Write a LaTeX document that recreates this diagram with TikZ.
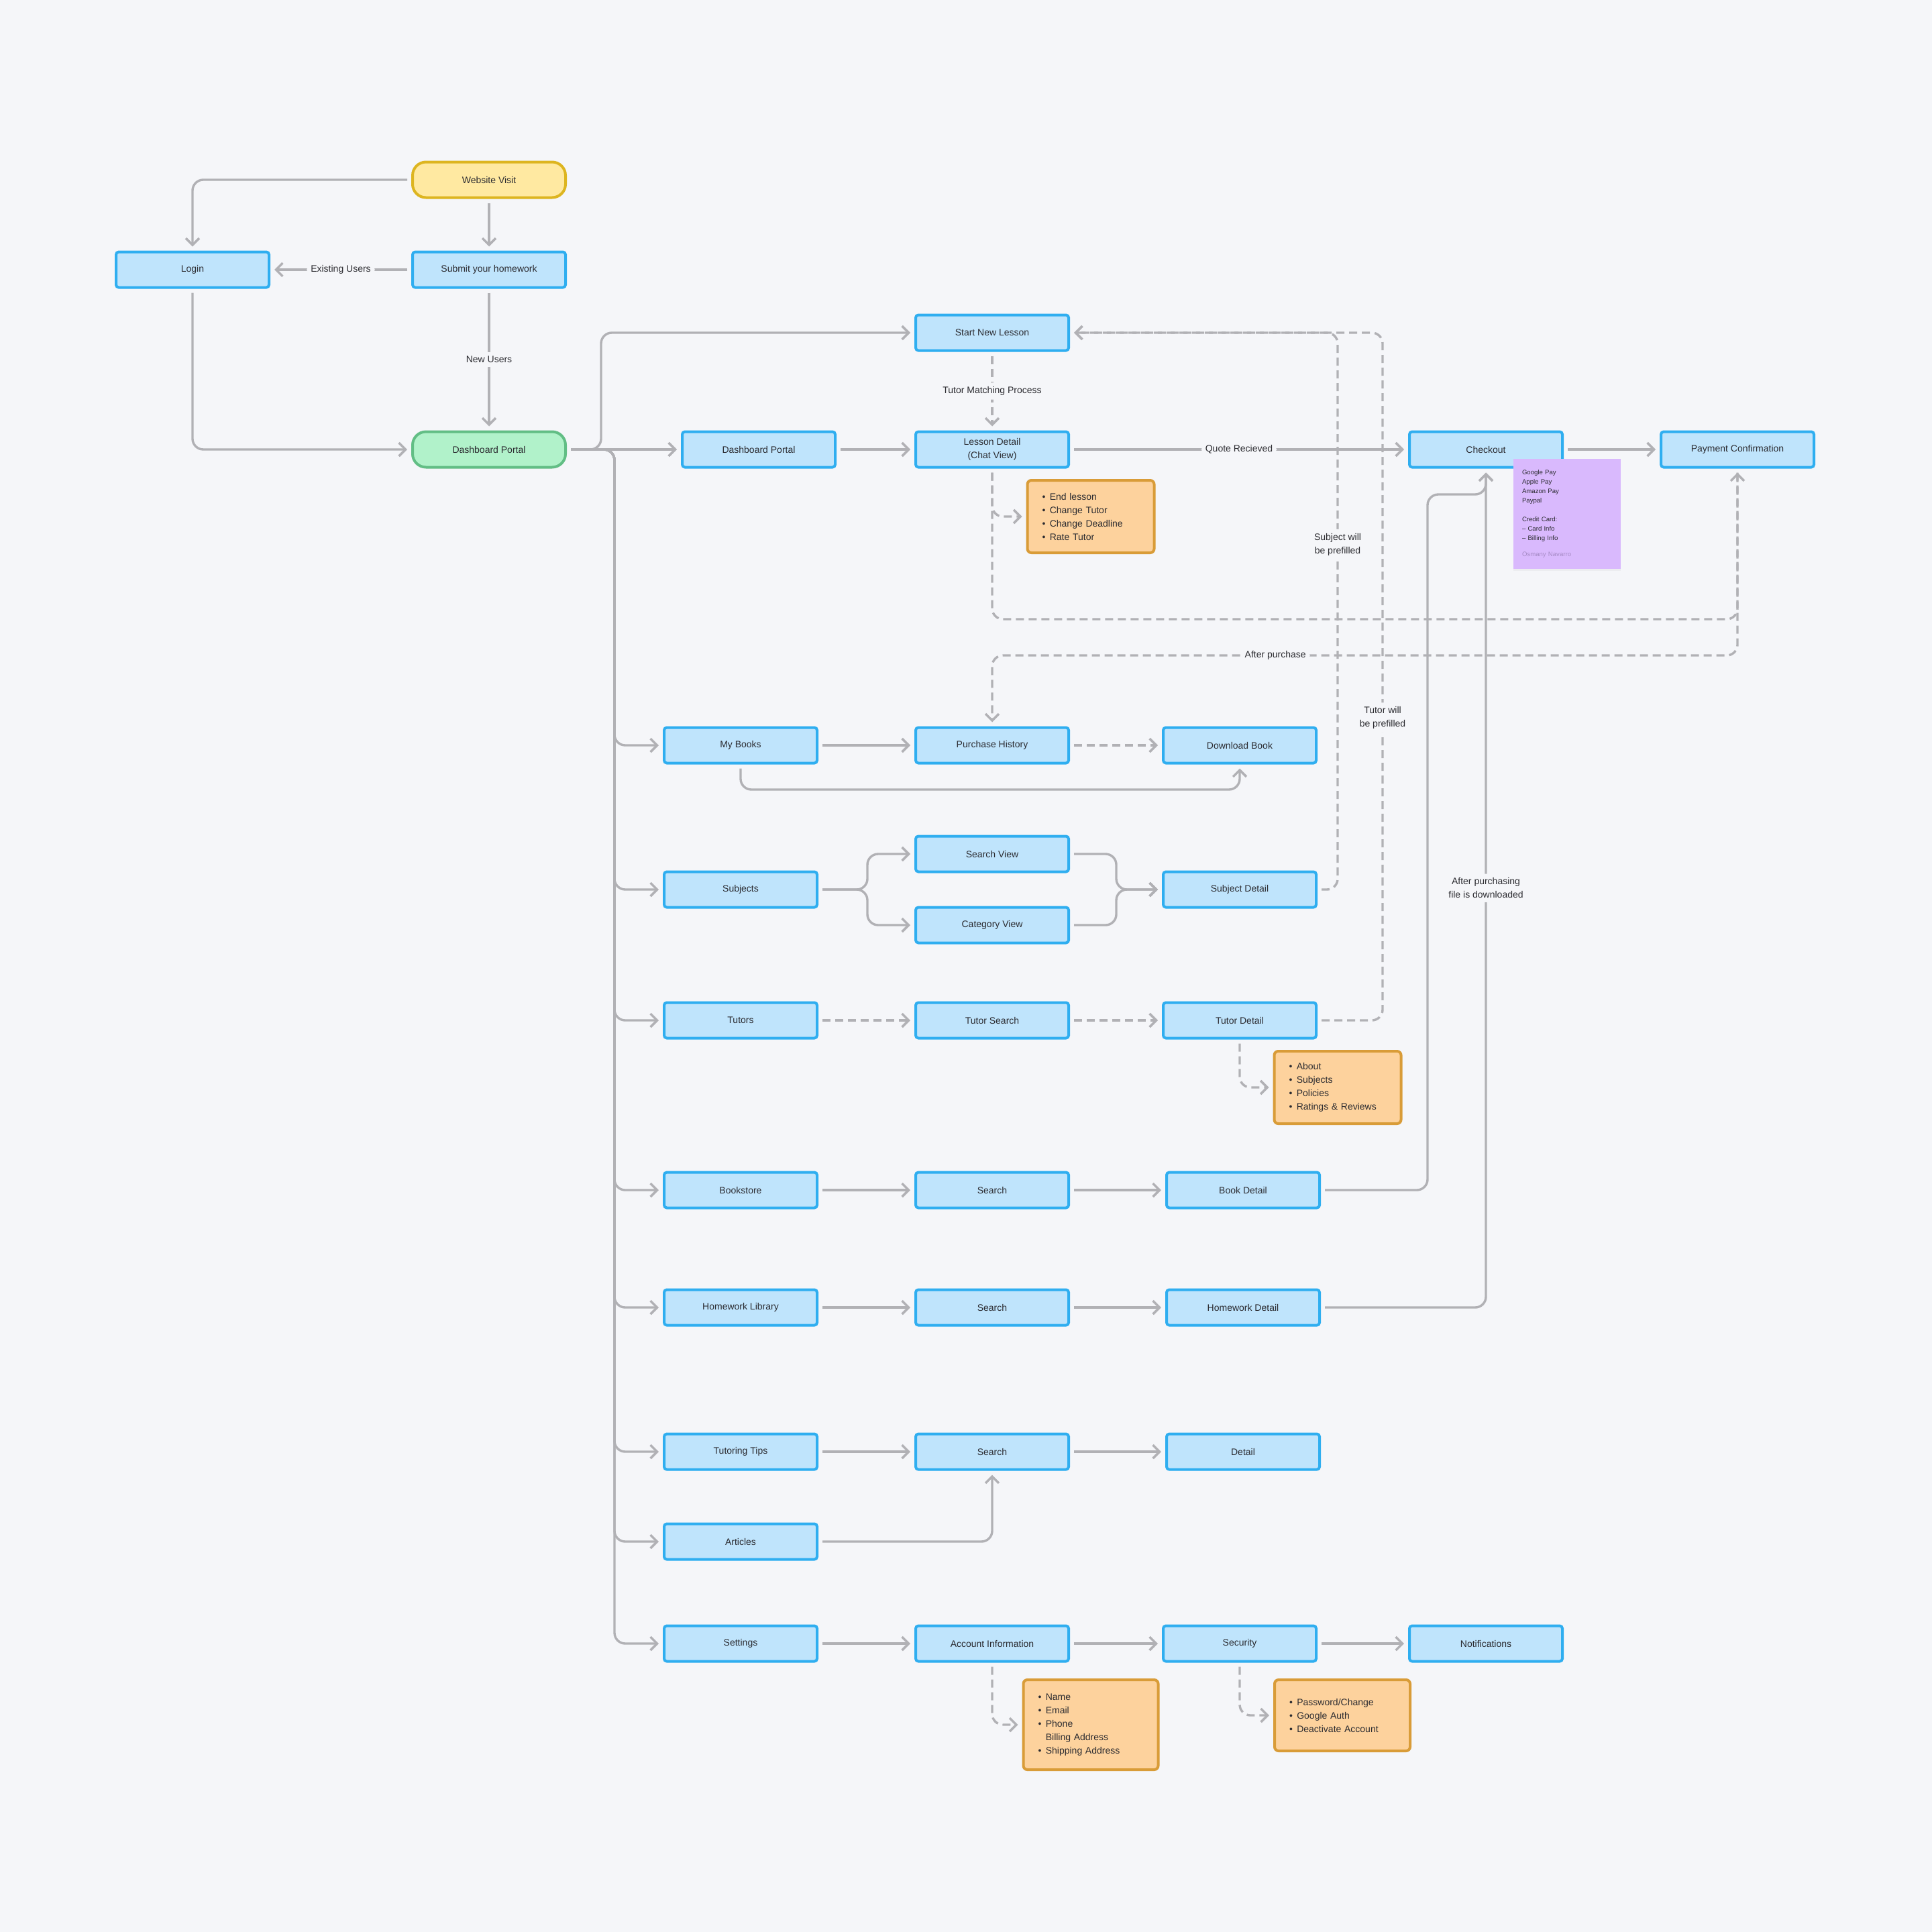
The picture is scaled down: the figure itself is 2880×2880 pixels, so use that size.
\documentclass[tikz,border=0pt]{standalone}
\usepackage{fontspec}
\setmainfont{Liberation Sans}
\usepackage{xcolor}
\usetikzlibrary{arrows.meta,shadows}
\definecolor{bgc}{HTML}{F5F6F9}
\definecolor{linec}{HTML}{B1B1B5}
\definecolor{boxfill}{HTML}{BFE4FC}
\definecolor{boxline}{HTML}{2FAEF0}
\definecolor{startfill}{HTML}{FFE9A1}
\definecolor{startline}{HTML}{DDB520}
\definecolor{portalfill}{HTML}{B1F2CA}
\definecolor{portalline}{HTML}{62BE85}
\definecolor{notefill}{HTML}{FDD29D}
\definecolor{noteline}{HTML}{D99C38}
\definecolor{stickyfill}{HTML}{D9B9FD}
\definecolor{stickyname}{HTML}{A68BC6}
\definecolor{txt}{HTML}{2B2B30}
\newcommand{\itm}[1]{\textbullet\hspace{3.2pt}#1}

\begin{document}
\begin{tikzpicture}[x=0.5pt,y=-0.5pt,>={Straight Barb[length=5pt,width=10pt]},
  every node/.style={font=\fontsize{7}{10}\selectfont,text=txt},
  screen/.style={draw=boxline,fill=boxfill,line width=2pt,rounded corners=2pt,
    minimum width=114pt,minimum height=26.5pt,inner sep=0pt,align=center},
  entry/.style={screen,draw=startline,fill=startfill,rounded corners=10pt},
  portal/.style={screen,draw=portalline,fill=portalfill,rounded corners=10pt},
  infobox/.style={draw=noteline,fill=notefill,line width=2pt,rounded corners=3pt,
    align=left,inner xsep=11pt,inner ysep=0pt},
  sticky/.style={fill=stickyfill,minimum width=80pt,minimum height=82pt,text width=67pt,
    inner xsep=6.5pt,align=left,font=\fontsize{4.8}{7}\selectfont,
    drop shadow={opacity=0.07,shadow xshift=0pt,shadow yshift=-1.5pt}},
  flow/.style={draw=linec,line width=1.7pt,rounded corners=8pt,->,shorten >=3pt,shorten <=3pt},
  dflow/.style={flow,dash pattern=on 6pt off 3.5pt},
  lbl/.style={fill=bgc,inner sep=3pt}]
  % Background
  \fill[bgc] (0,0) rectangle (2880,2880);

  % Entry
  \node[entry]  (visit)  at (729,268) {Website Visit};
  \node[screen] (submit) at (729,402) {Submit your homework};
  \node[screen] (login)  at (287,402) {Login};
  \node[portal] (portal) at (729,670) {Dashboard Portal};

  % Lessons
  \node[screen] (start)    at (1479,496) {Start New Lesson};
  \node[screen] (dportal)  at (1131,670) {Dashboard Portal};
  \node[screen] (lesson)   at (1479,670) {Lesson Detail\\(Chat View)};
  \node[screen] (checkout) at (2215,670) {Checkout};
  \node[screen] (paycf)    at (2590,670) {Payment Confirmation};
  \node[infobox,text width=72.5pt,minimum height=54pt] (opts) at (1626,770)
    {\itm{End lesson}\\\itm{Change Tutor}\\\itm{Change Deadline}\\\itm{Rate Tutor}};
  \node[sticky] (paynote) at (2336,766)
    {Google Pay\\Apple Pay\\Amazon Pay\\Paypal\\[7pt]Credit Card:\\-- Card Info\\-- Billing Info\\[5pt]{\color{stickyname}Osmany Navarro}};

  % My Books
  \node[screen] (books)  at (1104,1111) {My Books};
  \node[screen] (purch)  at (1479,1111) {Purchase History};
  \node[screen] (dlbook) at (1848,1111) {Download Book};

  % Subjects
  \node[screen] (subj)  at (1104,1326) {Subjects};
  \node[screen] (sview) at (1479,1273) {Search View};
  \node[screen] (cview) at (1479,1379) {Category View};
  \node[screen] (sdet)  at (1848,1326) {Subject Detail};

  % Tutors
  \node[screen] (tutors)  at (1104,1521) {Tutors};
  \node[screen] (tsearch) at (1479,1521) {Tutor Search};
  \node[screen] (tdet)    at (1848,1521) {Tutor Detail};
  \node[infobox,text width=72.5pt,minimum height=54pt] (tinfo) at (1994,1621)
    {\itm{About}\\\itm{Subjects}\\\itm{Policies}\\\itm{Ratings \& Reviews}};

  % Bookstore and homework
  \node[screen] (store)   at (1104,1774) {Bookstore};
  \node[screen] (ssearch) at (1479,1774) {Search};
  \node[screen] (bkdet)   at (1853,1774) {Book Detail};
  \node[screen] (hwlib)   at (1104,1949) {Homework Library};
  \node[screen] (hsearch) at (1479,1949) {Search};
  \node[screen] (hwdet)   at (1853,1949) {Homework Detail};

  % Tips
  \node[screen] (tips)     at (1104,2164) {Tutoring Tips};
  \node[screen] (tsrch)    at (1479,2164) {Search};
  \node[screen] (tipdet)   at (1853,2164) {Detail};
  \node[screen] (articles) at (1104,2298) {Articles};

  % Settings
  \node[screen] (settings) at (1104,2450) {Settings};
  \node[screen] (acct)     at (1479,2450) {Account Information};
  \node[screen] (secur)    at (1848,2450) {Security};
  \node[screen] (notif)    at (2215,2450) {Notifications};
  \node[infobox,text width=78.5pt,minimum height=67pt] (acinfo) at (1626,2571)
    {\itm{Name}\\\itm{Email}\\\itm{Phone}\\\hphantom{\textbullet\hspace{3.2pt}}Billing Address\\\itm{Shipping Address}};
  \node[infobox,text width=79pt,minimum height=53pt] (scinfo) at (2001,2557)
    {\itm{Password/Change}\\\itm{Google Auth}\\\itm{Deactivate Account}};

  % Entry flows
  \draw[flow] (visit.west) -| (login.north);
  \draw[flow] (visit) -- (submit);
  \draw[flow] (submit) -- node[lbl]{Existing Users} (login);
  \draw[flow] (submit) -- node[lbl]{New Users} (portal);
  \draw[flow] (login.south) |- (portal.west);

  % Portal branches
  \coordinate (up) at (896,496);
  \coordinate (trunk) at (916,670);
  \draw[flow] (portal.east) -| (up) -- (start.west);
  \draw[flow] (portal.east) -- (dportal.west);
  \foreach \n in {books,subj,tutors,store,hwlib,tips,articles,settings}
    \draw[flow] (portal.east) -| (trunk |- \n.west) -- (\n.west);

  % Lesson flows
  \coordinate (loopa) at (0,923);
  \coordinate (loopb) at (0,977);
  \draw[dflow] (start) -- node[lbl]{Tutor Matching Process} (lesson);
  \draw[flow] (dportal) -- (lesson);
  \draw[flow] (lesson) -- node[lbl]{Quote Recieved} (checkout);
  \draw[flow] (checkout) -- (paycf);
  \draw[dflow] (lesson.south) |- (opts.west);
  \draw[dflow] (lesson.south) |- (loopa -| paycf.south) -- (paycf.south);
  \draw[dflow] (paycf.south) -- (paycf.south |- loopb)
    -- node[lbl,pos=0.62]{After purchase} (loopb -| purch.north) -- (purch.north);

  % Prefilled lessons
  \coordinate (subjx) at (1994,0);
  \coordinate (tutx) at (2061,0);
  \draw[dflow] (sdet.east) -| node[lbl,pos=0.81,align=center]{Subject will\\be prefilled}
    (subjx |- start.east) -- (start.east);
  \draw[dflow] (tdet.east) -| node[lbl,pos=0.72,align=center]{Tutor will\\be prefilled}
    (tutx |- start.east) -- (start.east);

  % Books
  \coordinate (bkloop) at (0,1177);
  \draw[flow] (books) -- (purch);
  \draw[dflow] (purch) -- (dlbook);
  \draw[flow] (books.south) |- (bkloop -| dlbook.south) -- (dlbook.south);

  % Subjects
  \coordinate (fork) at (1293,0);
  \coordinate (merge) at (1664,0);
  \draw[flow] (subj.east) -| (fork |- sview.west) -- (sview.west);
  \draw[flow] (subj.east) -| (fork |- cview.west) -- (cview.west);
  \draw[flow] (sview.east) -| (merge |- sdet.west) -- (sdet.west);
  \draw[flow] (cview.east) -| (merge |- sdet.west) -- (sdet.west);

  % Tutors
  \draw[dflow] (tutors) -- (tsearch);
  \draw[dflow] (tsearch) -- (tdet);
  \draw[dflow] (tdet.south) |- (tinfo.west);

  % Bookstore and homework
  \coordinate (bkx) at (2128,737);
  \draw[flow] (store) -- (ssearch);
  \draw[flow] (ssearch) -- (bkdet);
  \draw[flow] (bkdet.east) -| (bkx) -| (checkout.south);
  \draw[flow] (hwlib) -- (hsearch);
  \draw[flow] (hsearch) -- (hwdet);
  \draw[flow] (hwdet.east) -| node[lbl,pos=0.75,align=center]{After purchasing\\file is downloaded}
    (checkout.south);

  % Tips
  \draw[flow] (tips) -- (tsrch);
  \draw[flow] (tsrch) -- (tipdet);
  \draw[flow] (articles.east) -| (tsrch.south);

  % Settings
  \draw[flow] (settings) -- (acct);
  \draw[flow] (acct) -- (secur);
  \draw[flow] (secur) -- (notif);
  \draw[dflow] (acct.south) |- (acinfo.west);
  \draw[dflow] (secur.south) |- (scinfo.west);
\end{tikzpicture}
\end{document}
